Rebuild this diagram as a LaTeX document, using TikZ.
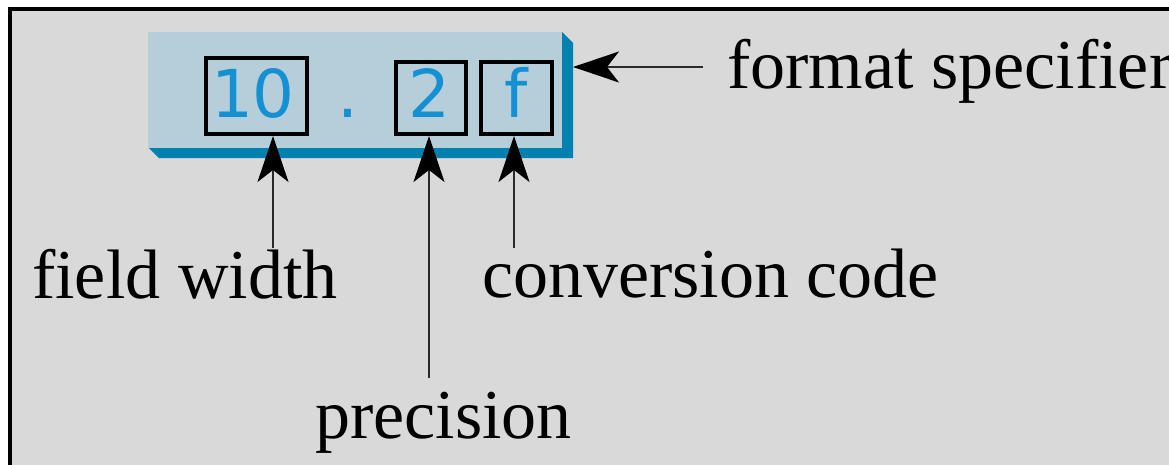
\documentclass[tikz,border=0pt]{standalone}
\usepackage{fontspec}
\setmainfont{Liberation Serif}
\newfontfamily\codefont{DejaVu Sans}
\usetikzlibrary{arrows.meta,calc}
\definecolor{bggray}{HTML}{D9D9D9}
\definecolor{lightbl}{HTML}{B5CEDA}
\definecolor{darkbl}{HTML}{0081AF}
\definecolor{codebl}{HTML}{1491D2}
\definecolor{linegray}{HTML}{2A2A2A}
\tikzset{
  codebox/.style={draw=black, line width=4pt, inner sep=0pt, anchor=north west},
  codetxt/.style={font=\codefont\fontsize{66}{70}\selectfont, text=codebl, inner sep=0pt, anchor=base},
  lbl/.style={font=\fontsize{70}{80}\selectfont, text=black, inner sep=0pt, anchor=base west},
  arr/.style={draw=linegray, line width=2pt, -{Stealth[length=46pt,width=31pt,inset=12pt,color=black]}},
}
\begin{document}
\begin{tikzpicture}[x=1pt,y=-1pt]
\useasboundingbox (0,0) rectangle (1169,464);
\clip (0,0) rectangle (1169,464);
% frame
\draw[line width=4pt, fill=bggray] (10,9) rectangle (1200,500);
% 3D box
\fill[darkbl] (562,32) -- (573,43) -- (573,158) -- (159,158) -- (148,147) -- (562,147) -- cycle;
\fill[lightbl] (148,32) rectangle (562,148);
\coordinate (boxR) at (573,67);
% inner boxes
\node[codebox, minimum width=101pt, minimum height=76pt] (b10) at (204,56) {};
\node[codebox, minimum width=70pt, minimum height=72pt] (b2) at (394,60) {};
\node[codebox, minimum width=71pt, minimum height=72pt] (bf) at (479,60) {};
\node[codetxt] (t10) at (253,117) {10};
\node[codetxt] (tdot) at (348,117) {.};
\node[codetxt] (t2) at (429,117) {2};
\node[codetxt] (tf) at (516,117) {f};
% labels
\node[lbl] (fs) at (727,88) {format specifier};
\node[lbl] (fw) at (32,298) {field width};
\node[lbl] (cc) at (482,297) {conversion code};
\node[lbl] (pr) at (315,438) {precision};
% arrow tails
\coordinate (fsT) at (703,67);
\coordinate (fwT) at (273,248);
\coordinate (prT) at (429,378);
\coordinate (ccT) at (514,248);
% arrows
\draw[arr] (fsT) -- (boxR);
\draw[arr] (fwT) -- (fwT |- b10.south);
\draw[arr] (prT) -- (prT |- b2.south);
\draw[arr] (ccT) -- (ccT |- bf.south);
\end{tikzpicture}
\end{document}
